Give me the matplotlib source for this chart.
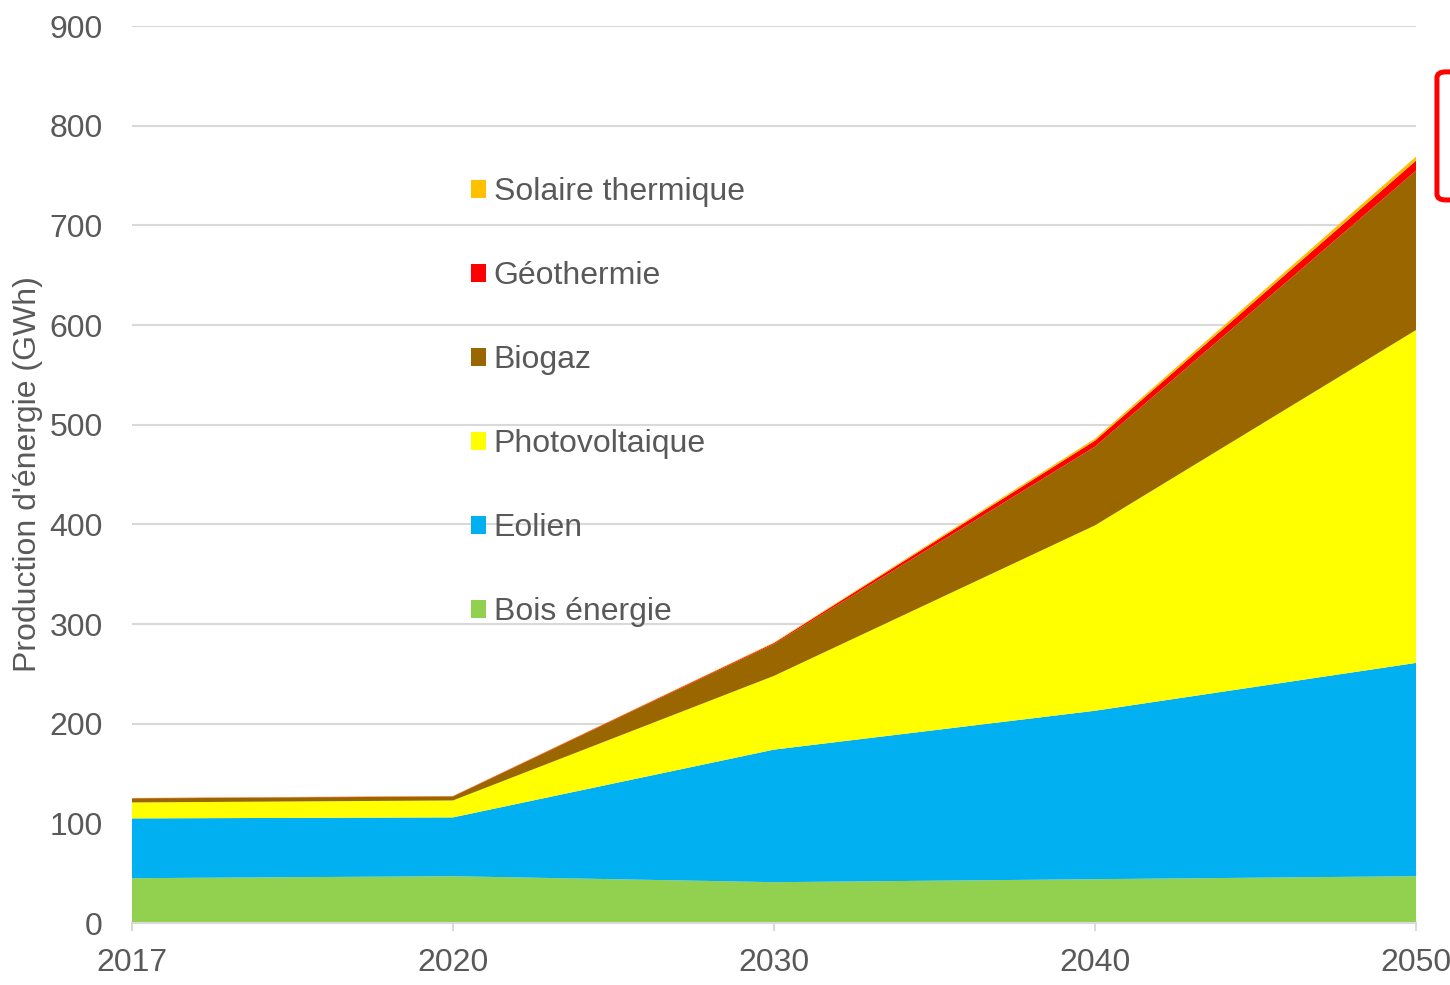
import matplotlib.pyplot as plt
from matplotlib.patches import FancyBboxPatch, Patch
import numpy as np

plt.rcParams['font.family'] = ['Liberation Sans', 'DejaVu Sans']

# Production d'énergie renouvelable par filière (GWh)
years = ['2017', '2020', '2030', '2040', '2050']
bois = [45, 47, 41, 44, 47]
eolien = [60, 59, 133, 169, 214]
photovoltaique = [16, 17, 74, 186, 334]
biogaz = [4, 4, 32, 79, 160]
geothermie = [0.3, 0.3, 1, 6, 10]
solaire = [0.2, 0.2, 0.5, 2, 4]

labels = ['Bois énergie', 'Eolien', 'Photovoltaique', 'Biogaz',
          'Géothermie', 'Solaire thermique']
colors = ['#92D050', '#00B0F0', '#FFFF00', '#996600', '#FF0000', '#FFC000']

txt = '#595959'
grid = '#D9D9D9'
fs = 23

fig = plt.figure(figsize=(14.5, 9.85), dpi=100)
ax = fig.add_axes([0.091, 0.0629, 0.8856, 0.9107])

x = np.arange(len(years))
ax.stackplot(x, bois, eolien, photovoltaique, biogaz, geothermie, solaire,
             colors=colors, labels=labels, linewidth=0)

ax.set_xlim(0, len(years) - 1)
ax.set_ylim(0, 900)
ax.set_xticks(x)
ax.set_xticklabels(years)
ax.set_yticks(np.arange(0, 901, 100))

ax.set_axisbelow(True)
ax.yaxis.grid(True, color=grid, linewidth=1.5)
for s in ['top', 'right', 'left']:
    ax.spines[s].set_visible(False)
ax.spines['bottom'].set_color(grid)
ax.spines['bottom'].set_linewidth(1.5)

ax.tick_params(axis='x', length=6, width=1.5, color=grid, pad=12,
               labelsize=fs, labelcolor=txt)
ax.tick_params(axis='y', length=0, pad=21, labelsize=fs, labelcolor=txt)

ax.set_ylabel("Production d'énergie (GWh)", fontsize=fs, color=txt)
ax.yaxis.set_label_coords(-0.069, 0.5)

# legend (reverse order, stacked like the areas)
handles = [Patch(facecolor=c, edgecolor='none') for c in colors][::-1]
leg = fig.legend(handles, labels[::-1], loc='upper left',
                 bbox_to_anchor=(0.3245, 0.820), frameon=False,
                 fontsize=fs, labelspacing=1.69, handlelength=0.47,
                 handleheight=0.47, handletextpad=0.25, borderpad=0,
                 borderaxespad=0)
for t in leg.get_texts():
    t.set_color(txt)

# red frame cut off at the right edge
rect = FancyBboxPatch((0.991, 0.797), 0.05, 0.130,
                      boxstyle='round,pad=0,rounding_size=0.006',
                      transform=fig.transFigure, fill=False,
                      edgecolor='#FF0000', linewidth=3.6, clip_on=False)
fig.patches.append(rect)

fig.savefig('out.png', dpi=100)
